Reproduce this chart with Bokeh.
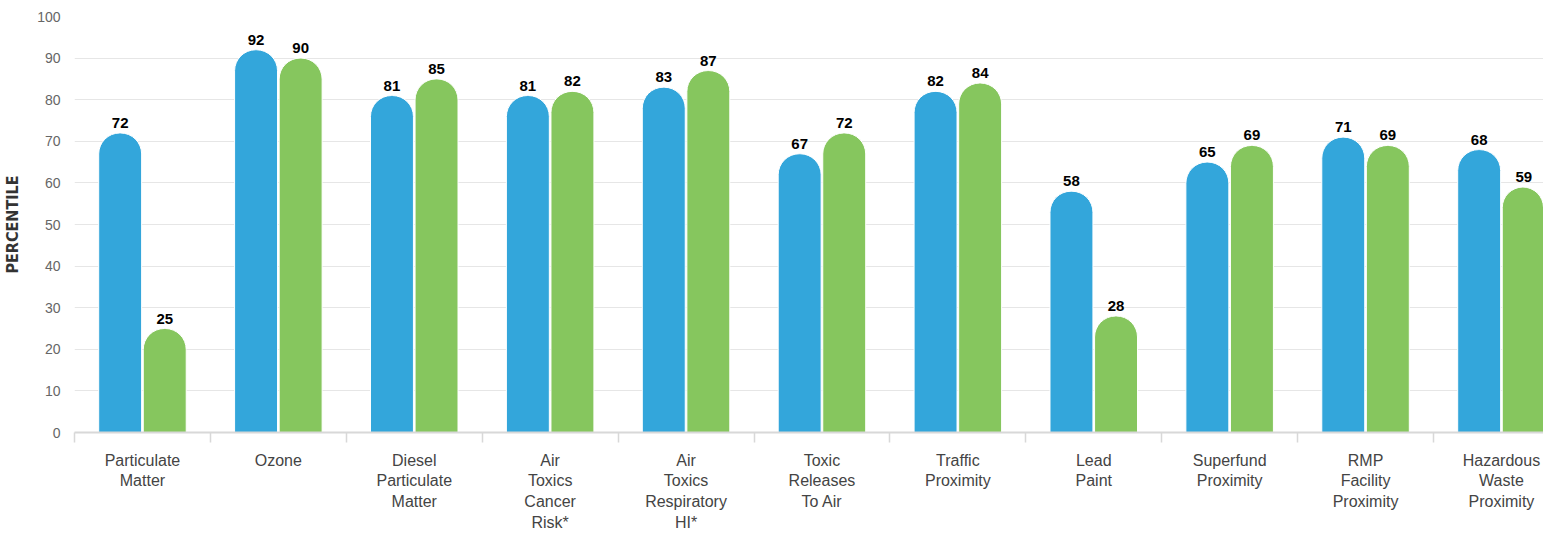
from bokeh.plotting import figure
from bokeh.models import Range1d, FixedTicker, ColumnDataSource
from bokeh.core.properties import value
from bokeh.embed import file_html
from bokeh.resources import INLINE

categories = ["Particulate\nMatter", "Ozone", "Diesel\nParticulate\nMatter",
              "Air\nToxics\nCancer\nRisk*", "Air\nToxics\nRespiratory\nHI*",
              "Toxic\nReleases\nTo Air", "Traffic\nProximity", "Lead\nPaint",
              "Superfund\nProximity", "RMP\nFacility\nProximity",
              "Hazardous\nWaste\nProximity"]
series_a = [72, 92, 81, 81, 83, 67, 82, 58, 65, 71, 68]
series_b = [25, 90, 85, 82, 87, 72, 84, 28, 69, 69, 59]
y_ticks = [0, 10, 20, 30, 40, 50, 60, 70, 80, 90, 100]

BLUE = "#33a6db"
GREEN = "#86c65e"
FONT = "'Liberation Sans', Arial, Helvetica, sans-serif"

W, H = 1543, 533
LEFT, TOP, BOTTOM = 74, 16, 100
cat_px = 135.9
x_end = (W - LEFT) / cat_px

centers = [i + 0.5 for i in range(len(categories))]
off = 0.164
bw = 0.316

src_a = ColumnDataSource(dict(x=[c - off for c in centers], top=series_a,
                              lbl=[str(v) for v in series_a]))
src_b = ColumnDataSource(dict(x=[c + off for c in centers], top=series_b,
                              lbl=[str(v) for v in series_b]))

p = figure(width=W, height=H, output_backend="svg", toolbar_location=None,
           x_range=Range1d(0, x_end), y_range=Range1d(0, 100),
           min_border_left=LEFT, min_border_right=0, min_border_top=TOP,
           min_border_bottom=BOTTOM)
p.outline_line_color = None
p.background_fill_color = "white"
p.border_fill_color = "white"

for src, col in ((src_a, BLUE), (src_b, GREEN)):
    p.vbar(x="x", top="top", bottom=0, width=bw, source=src, fill_color=col,
           line_color="white", line_width=1,
           border_radius=(21, 21, 0, 0))
    p.text(x="x", y="top", text="lbl", source=src, text_align="center",
           text_baseline="bottom", y_offset=-5, text_font=value(FONT),
           text_font_style="bold", text_font_size="15px", text_color="#000000")

# y axis
p.yaxis.ticker = FixedTicker(ticks=y_ticks)
p.yaxis.axis_line_color = None
p.yaxis.major_tick_line_color = None
p.yaxis.minor_tick_line_color = None
p.yaxis.major_tick_out = 0
p.yaxis.major_tick_in = 0
p.yaxis.major_label_standoff = 14
p.yaxis.major_label_text_font = FONT
p.yaxis.major_label_text_font_size = "14px"
p.yaxis.major_label_text_color = "#666666"
p.yaxis.axis_label = "PERCENTILE"
p.yaxis.axis_label_text_font = "'Liberation Sans Narrow', 'DejaVu Sans Condensed', 'Roboto', sans-serif"
p.yaxis.axis_label_text_font_style = "bold"
p.yaxis.axis_label_text_font_size = "16px"
p.yaxis.axis_label_text_color = "#333333"
p.yaxis.axis_label_standoff = 12

p.ygrid.ticker = FixedTicker(ticks=y_ticks)
p.ygrid.grid_line_color = "#e6e6e6"
p.ygrid.grid_line_width = 1
p.xgrid.grid_line_color = None

# x axis: labels at category centres, tick marks at category boundaries
p.xaxis.ticker = FixedTicker(ticks=centers,
                             minor_ticks=list(range(len(categories) + 1)))
p.xaxis.major_label_overrides = {c: lab for c, lab in zip(centers, categories)}
p.xaxis.major_tick_line_color = None
p.xaxis.major_tick_out = 0
p.xaxis.major_tick_in = 0
p.xaxis.minor_tick_line_color = "#d8d8d8"
p.xaxis.minor_tick_line_width = 1.5
p.xaxis.minor_tick_out = 10
p.xaxis.minor_tick_in = 0
p.xaxis.axis_line_color = "#d8d8d8"
p.xaxis.axis_line_width = 2
p.xaxis.major_label_standoff = 9
p.xaxis.major_label_text_font = FONT
p.xaxis.major_label_text_font_size = "16px"
p.xaxis.major_label_text_color = "#444444"
p.xaxis.major_label_text_line_height = 1.22

open("out.html", "w").write(file_html(p, INLINE))
